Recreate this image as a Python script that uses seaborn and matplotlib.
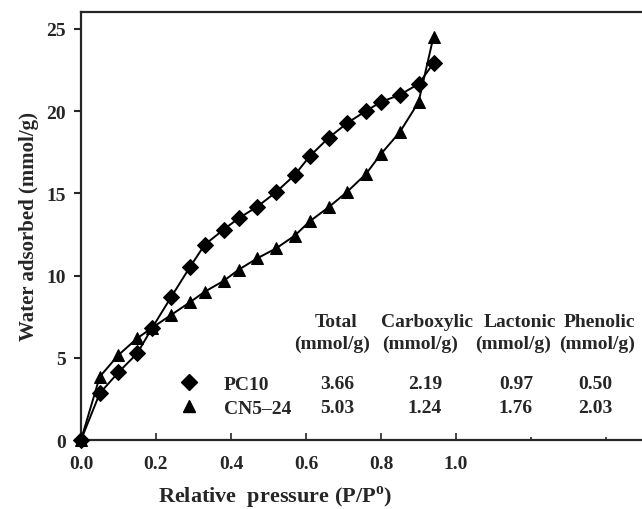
import numpy as np
import pandas as pd
import seaborn as sns
import matplotlib
matplotlib.use("Agg")
import matplotlib.pyplot as plt
from matplotlib.lines import Line2D

# ---- data ----
p_rel = [0.0, 0.05, 0.10, 0.15, 0.19, 0.24, 0.29, 0.33, 0.38, 0.42, 0.47,
         0.52, 0.57, 0.61, 0.66, 0.71, 0.76, 0.80, 0.85, 0.90, 0.94]
pc10 = [0.0, 2.84, 4.12, 5.27, 6.83, 8.68, 10.5, 11.88, 12.79, 13.48, 14.19,
        15.07, 16.12, 17.26, 18.37, 19.28, 20.01, 20.56, 20.99, 21.65, 22.91]
cn5_24 = [0.0, 3.85, 5.17, 6.19, 6.83, 7.6, 8.37, 9.02, 9.67, 10.35, 11.05,
          11.65, 12.43, 13.3, 14.15, 15.1, 16.18, 17.4, 18.72, 20.54, 24.53]
samples = ["PC10", "CN5\u201324"]
table_cols = ["Total", "Carboxylic", "Lactonic", "Phenolic"]
table_unit = "(mmol/g)"
table_pc10 = ["3.66", "2.19", "0.97", "0.50"]
table_cn = ["5.03", "1.24", "1.76", "2.03"]
x_ticks = [0.0, 0.2, 0.4, 0.6, 0.8, 1.0]
x_minor = [1.2, 1.4]
y_ticks = [0, 5, 10, 15, 20, 25]

df = pd.concat([
    pd.DataFrame({"p": p_rel, "w": pc10, "sample": samples[0]}),
    pd.DataFrame({"p": p_rel, "w": cn5_24, "sample": samples[1]}),
])

sns.set_style("ticks")
plt.rcParams["font.family"] = ["Liberation Serif", "DejaVu Serif"]
plt.rcParams["font.weight"] = "bold"
plt.rcParams["mathtext.fontset"] = "custom"
plt.rcParams["mathtext.rm"] = "Liberation Serif:bold"
plt.rcParams["mathtext.bf"] = "Liberation Serif:bold"

fig = plt.figure(figsize=(6.42, 5.10), dpi=100)
ax = fig.add_axes([81/642, 1-441/510, 1-81/642, (441-13)/510])

markers = {samples[0]: "D", samples[1]: "^"}
sns.lineplot(data=df, x="p", y="w", hue="sample", style="sample",
             palette={s: "black" for s in samples}, markers=markers,
             dashes=False, markersize=8, linewidth=1.4, legend=False,
             markeredgecolor="black", ax=ax, clip_on=False, zorder=3)

ax.set_xlim(0, 1.496)
ax.set_ylim(0, 26.03)
ax.set_xticks(x_ticks)
ax.set_xticklabels([f"{v:.1f}" for v in x_ticks])
ax.set_xticks(x_minor, minor=True)
ax.set_yticks(y_ticks)
ax.tick_params(axis="x", which="major", direction="in", length=5, width=1.2,
               labelsize=14, pad=10.5)
ax.tick_params(axis="x", which="minor", direction="in", length=2, width=1.2)
ax.tick_params(axis="y", direction="out", length=5, width=1.5,
               labelsize=14, pad=6)
for s in ["left", "bottom", "top"]:
    ax.spines[s].set_linewidth(1.6)
ax.spines["right"].set_visible(False)

ax.set_xlabel("Relative  pressure (P/P$^{\\mathregular{o}}$)", fontsize=16,
              fontweight="bold")
ax.xaxis.set_label_coords(0.346, -0.101)
ax.set_ylabel("Water adsorbed (mmol/g)", fontsize=15, fontweight="bold",
              labelpad=5)

# table
head_x = [0.4545, 0.616, 0.7825, 0.9234]
unit_x = [0.4474, 0.6043, 0.771, 0.9198]
val_x = [0.4563, 0.6132, 0.7754, 0.9162]
fs = 14
for i, name in enumerate(table_cols):
    ax.text(head_x[i], 0.276, name, transform=ax.transAxes, ha="center",
            va="center", fontsize=fs, fontweight="bold")
    ax.text(unit_x[i], 0.227, table_unit, transform=ax.transAxes, ha="center",
            va="center", fontsize=fs, fontweight="bold")
    ax.text(val_x[i], 0.131, table_pc10[i], transform=ax.transAxes,
            ha="center", va="center", fontsize=fs, fontweight="bold")
    ax.text(val_x[i], 0.077, table_cn[i], transform=ax.transAxes,
            ha="center", va="center", fontsize=fs, fontweight="bold")

handles = [Line2D([], [], linestyle="none", marker=markers[s], color="black",
                  markersize=8) for s in samples]
leg = ax.legend(handles, samples, loc="center left",
                bbox_to_anchor=(0.157, 0.103), frameon=False, fontsize=fs,
                handletextpad=1.2, labelspacing=0.32, borderaxespad=0,
                handlelength=1.2)

fig.savefig("out.png", dpi=100)
